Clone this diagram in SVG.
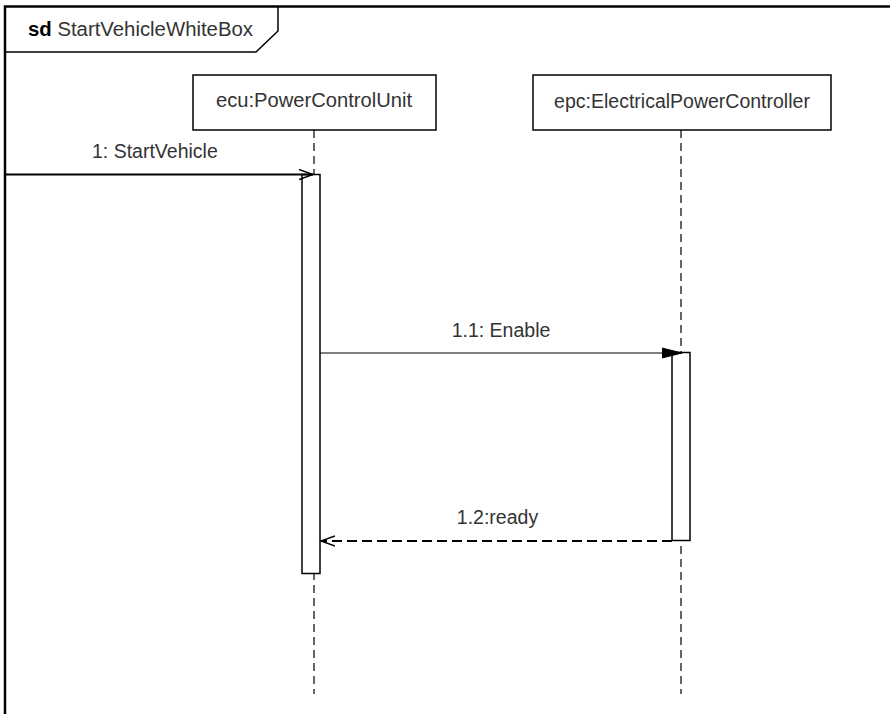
<svg xmlns="http://www.w3.org/2000/svg" width="890" height="714" viewBox="0 0 890 714">
<style>
text{font-family:"Liberation Sans",Arial,sans-serif;font-size:19.5px;fill:#333}
.box{fill:#fff;stroke:#000;stroke-width:1.5}
.life{stroke:#000;stroke-width:1.2;stroke-dasharray:8,5;fill:none}
.act{fill:#fff;stroke:#000;stroke-width:1.5}
.msg{stroke:#000;fill:none}
</style>
<defs>
<marker id="open" markerWidth="16" markerHeight="12" refX="14" refY="6" orient="auto" markerUnits="userSpaceOnUse">
<path d="M0,1 L14,6 L0,11" fill="none" stroke="#000" stroke-width="1.5"/>
</marker>
<marker id="filled" markerWidth="22" markerHeight="14" refX="20" refY="7" orient="auto" markerUnits="userSpaceOnUse">
<path d="M0,2 L20,7 L0,12 Z" fill="#000" stroke="#000"/>
</marker>
</defs>
<rect width="890" height="714" fill="#fff"/>
<g id="frame">
<path d="M5,714 L5,6.5 L890,6.5" fill="none" stroke="#000" stroke-width="2.5"/>
<path d="M5,52 L256,52 L278,31 L278,6.5" fill="none" stroke="#000" stroke-width="1.5"/>
<text x="28" y="36" textLength="225" lengthAdjust="spacingAndGlyphs"><tspan font-weight="bold" fill="#000">sd</tspan> StartVehicleWhiteBox</text>
</g>
<g id="ecu">
<rect class="box" x="193" y="75" width="243" height="55"/>
<text x="314" y="107" text-anchor="middle" textLength="196" lengthAdjust="spacingAndGlyphs">ecu:PowerControlUnit</text>
<line class="life" x1="314" y1="130" x2="314" y2="694"/>
<rect class="act" x="302" y="174.5" width="18" height="399"/>
</g>
<g id="epc">
<rect class="box" x="533" y="75" width="298" height="55"/>
<text x="682" y="108" text-anchor="middle">epc:ElectricalPowerController</text>
<line class="life" x1="681" y1="130" x2="681" y2="694"/>
<rect class="act" x="672" y="352.5" width="18" height="188"/>
</g>
<g id="connectors">
<line class="msg" x1="5" y1="174.5" x2="313" y2="174.5" stroke-width="2" marker-end="url(#open)"/>
<text x="92" y="158">1: StartVehicle</text>
<line class="msg" x1="320" y1="353" x2="682" y2="353" stroke-width="1.2" marker-end="url(#filled)"/>
<text x="501" y="337" text-anchor="middle">1.1: Enable</text>
<line class="msg" x1="672" y1="541" x2="321" y2="541" stroke-width="2" stroke-dasharray="10,5" marker-end="url(#open)"/>
<text x="497.5" y="524" text-anchor="middle">1.2:ready</text>
</g>
</svg>
